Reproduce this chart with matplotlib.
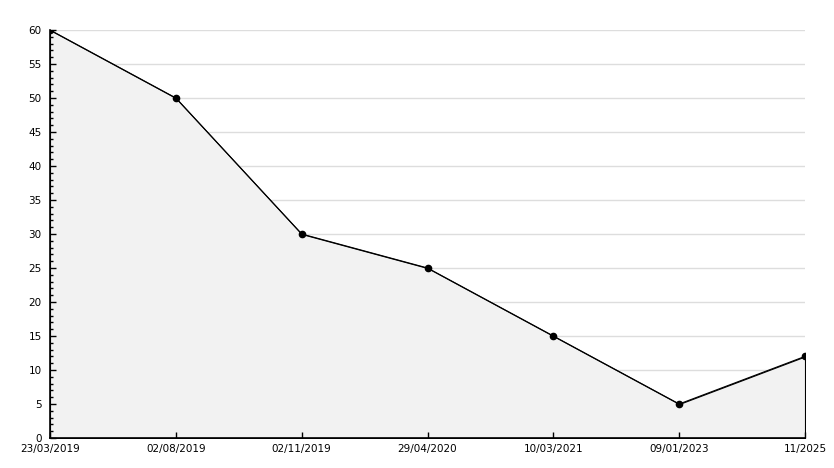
import matplotlib
matplotlib.use("Agg")
import matplotlib.pyplot as plt
from matplotlib.ticker import MultipleLocator

dates = ["23/03/2019", "02/08/2019", "02/11/2019", "29/04/2020", "10/03/2021", "09/01/2023", "11/2025"]
values = [60, 50, 30, 25, 15, 5, 12]
grid_levels = list(range(5, 61, 5))

fig = plt.figure(figsize=(8.34, 4.68), dpi=100)
ax = fig.add_axes([50/834, 30/468, 755/834, 408/468])
ax.set_axisbelow(False)  # ticks must sit above the fill

x = list(range(len(dates)))

# grid lines under the fill
for g in grid_levels:
    ax.axhline(g, color="#dddddd", linewidth=1, zorder=1)
ax.fill_between(x, values, 0, facecolor="#f2f2f2", edgecolor="black", linewidth=0.8, zorder=2)
ax.plot(x, values, color="black", linewidth=0.8, marker="o", markersize=4.5, zorder=4)

ax.set_xlim(0, len(dates) - 1)
ax.set_ylim(0, 60)
ax.set_xticks(x)
ax.set_xticklabels(dates)
ax.yaxis.set_major_locator(MultipleLocator(5))
ax.yaxis.set_minor_locator(MultipleLocator(1))

for s in ["top", "right"]:
    ax.spines[s].set_visible(False)
for s in ["left", "bottom"]:
    ax.spines[s].set_linewidth(1.2)

ax.tick_params(axis="y", which="major", direction="in", length=4, width=1, labelsize=7.5, pad=6)
ax.tick_params(axis="y", which="minor", direction="in", length=2.3, width=1)
ax.tick_params(axis="x", direction="in", length=4.5, width=1, labelsize=7.5, pad=4)

fig.savefig("out.png", dpi=100)
